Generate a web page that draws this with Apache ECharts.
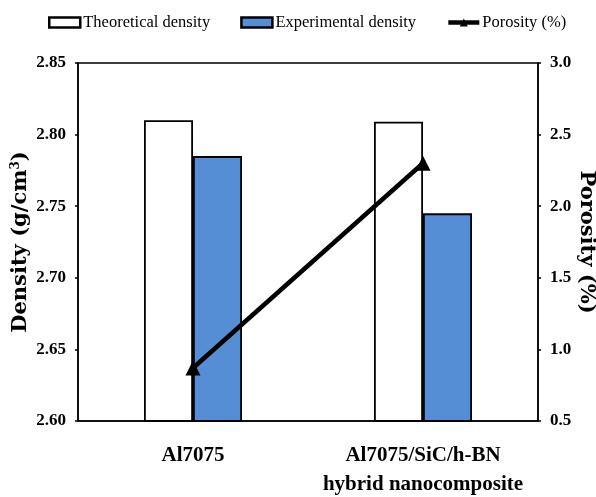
<!DOCTYPE html>
<html>
<head>
<meta charset="utf-8">
<script src="https://cdn.jsdelivr.net/npm/echarts@6/dist/echarts.min.js"></script>
<style>html,body{margin:0;padding:0;background:#fff}#c{width:596px;height:497px}</style>
</head>
<body>
<div id="c"></div>
<script>
const categories = ['Al7075', 'Al7075/SiC/h-BN\nhybrid nanocomposite'];
const theoreticalDensity = [2.810, 2.809];
const experimentalDensity = [2.785, 2.745];
const porosity = [0.87, 2.30];
const seriesNames = ['Theoretical density', 'Experimental density', 'Porosity (%)'];

const serif = 'Liberation Serif';
const wide = 'DejaVu Serif';
const chart = echarts.init(document.getElementById('c'), null, {renderer: 'canvas'});
chart.setOption({
  animation: false,
  backgroundColor: '#fff',
  legend: {
    left: 48, top: 14, padding: 0,
    itemWidth: 31, itemHeight: 10, itemGap: 30,
    textStyle: {fontFamily: serif, fontSize: 16.5, color: '#000', padding: [0,0,0,-2]},
    data: [
      {name: seriesNames[0], icon: 'rect', itemStyle: {borderWidth: 2.5}},
      {name: seriesNames[1], icon: 'rect', itemStyle: {borderWidth: 2.5}},
      {name: seriesNames[2], lineStyle: {width: 4.5}}
    ]
  },
  grid: {left: 78, right: 58, top: 63, bottom: 76, containLabel: false, outerBoundsMode: 'none',
    show: true, borderColor: '#000', borderWidth: 1.5, backgroundColor: 'transparent'},
  xAxis: {
    type: 'category', data: categories,
    axisLine: {lineStyle: {color: '#000', width: 1.5}},
    axisTick: {alignWithLabel: true, length: 4, lineStyle: {color: '#000', width: 1.5}},
    axisLabel: {interval: 0, color: '#000', fontFamily: serif, fontWeight: 'bold', fontSize: 21, margin: 20, lineHeight: 29}
  },
  yAxis: [
    {
      type: 'value', min: 2.6, max: 2.85, interval: 0.05,
      name: 'Density (g/cm{sup|3})', nameLocation: 'middle', nameGap: 46, nameRotate: 90, nameMoveOverlap: false,
      nameTextStyle: {color: '#000', fontFamily: wide, fontWeight: 'bold', fontSize: 21,
        rich: {sup: {fontSize: 12, fontFamily: wide, fontWeight: 'bold', verticalAlign: 'top', padding: [0,0,10,0]}}},
      splitLine: {show: false},
      axisLine: {show: true, lineStyle: {color: '#000', width: 1.5}},
      axisTick: {show: true, length: 3, lineStyle: {color: '#000', width: 1.5}},
      axisLabel: {color: '#000', fontFamily: serif, fontWeight: 'bold', fontSize: 17, margin: 12,
        formatter: v => v.toFixed(2)}
    },
    {
      type: 'value', min: 0.5, max: 3.0, interval: 0.5, position: 'right',
      name: 'Porosity (%)', nameLocation: 'middle', nameGap: 38, nameRotate: -90, nameMoveOverlap: false,
      nameTextStyle: {color: '#000', fontFamily: wide, fontWeight: 'bold', fontSize: 21},
      splitLine: {show: false},
      axisLine: {show: true, lineStyle: {color: '#000', width: 1.5}},
      axisTick: {show: true, length: 3, lineStyle: {color: '#000', width: 1.5}},
      axisLabel: {color: '#000', fontFamily: serif, fontWeight: 'bold', fontSize: 17, margin: 12,
        formatter: v => v.toFixed(1)}
    }
  ],
  series: [
    {name: seriesNames[0], type: 'bar', data: theoreticalDensity, barWidth: 49, barGap: '0%',
      itemStyle: {color: '#ffffff', borderColor: '#000', borderWidth: 1.8}},
    {name: seriesNames[1], type: 'bar', data: experimentalDensity, barWidth: 49, barGap: '0%',
      itemStyle: {color: '#558ed5', borderColor: '#000', borderWidth: 1.8}},
    {name: seriesNames[2], type: 'line', yAxisIndex: 1, data: porosity,
      symbol: 'triangle', symbolSize: 15,
      lineStyle: {color: '#000', width: 4.5}, itemStyle: {color: '#000'}}
  ]
});
</script>
</body>
</html>
